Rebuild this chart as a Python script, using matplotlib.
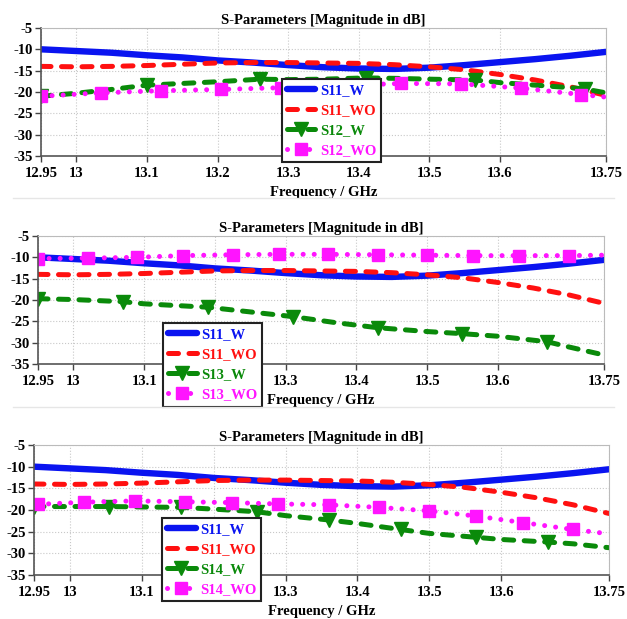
import numpy as np
import matplotlib
matplotlib.use('Agg')
import matplotlib.pyplot as plt
from matplotlib.lines import Line2D

plt.rcParams['font.family'] = ['Liberation Serif', 'DejaVu Serif']
plt.rcParams['font.weight'] = 'bold'
plt.rcParams['axes.unicode_minus'] = False

# shared reflection curves (same in all three plots)
f_s11 = [12.95, 13.0, 13.05, 13.1, 13.15, 13.2, 13.25, 13.3, 13.35, 13.4,
         13.45, 13.5, 13.55, 13.6, 13.65, 13.7, 13.75]
s11_w = [-10.0, -10.4, -10.8, -11.4, -11.9, -12.6, -13.1, -13.7, -14.2, -14.5,
         -14.6, -14.3, -13.7, -13.0, -12.3, -11.5, -10.6]
s11_wo = [-14.0, -14.1, -14.0, -13.8, -13.5, -13.2, -13.1, -13.1, -13.2, -13.3,
          -13.6, -14.1, -14.8, -15.9, -17.2, -18.8, -20.8]

# plot 1: S12
f_s12w = [12.95, 13.0, 13.05, 13.1, 13.15, 13.2, 13.26, 13.3, 13.35, 13.41,
          13.45, 13.5, 13.565, 13.6, 13.65, 13.7, 13.72, 13.75]
s12_w = [-21.0, -20.3, -19.4, -18.4, -18.0, -17.6, -17.0, -17.1, -17.0, -16.7,
         -16.8, -17.0, -17.2, -17.8, -18.4, -19.0, -19.3, -20.2]
mk_s12w = [0, 3, 6, 9, 12, 16]
f_s12wo = [12.95, 13.035, 13.12, 13.205, 13.29, 13.375, 13.46, 13.545, 13.63, 13.715, 13.75]
s12_wo = [-21.0, -20.2, -19.7, -19.4, -19.0, -18.5, -18.0, -18.1, -19.1, -20.6, -21.2]

# plot 2: S13
f_s13w = [12.95, 13.0, 13.07, 13.1, 13.19, 13.25, 13.31, 13.37, 13.43, 13.5,
          13.55, 13.6, 13.67, 13.7, 13.75]
s13_w = [-19.7, -19.9, -20.4, -20.9, -21.7, -22.8, -23.9, -25.3, -26.5, -27.4,
         -27.9, -28.5, -29.8, -31.0, -32.9]
mk_s13w = [0, 2, 4, 6, 8, 10, 12]
f_s13wo = [12.95, 13.02, 13.09, 13.155, 13.225, 13.29, 13.36, 13.43, 13.5,
           13.565, 13.63, 13.7, 13.75]
s13_wo = [-10.3, -10.2, -10.0, -9.6, -9.4, -9.3, -9.3, -9.4, -9.5, -9.6, -9.6, -9.6, -9.5]

# plot 3: S14
f_s14w = [12.95, 13.0, 13.055, 13.1, 13.155, 13.2, 13.26, 13.3, 13.36, 13.4,
          13.46, 13.5, 13.565, 13.6, 13.665, 13.7, 13.75]
s14_w = [-19.2, -19.2, -19.2, -19.3, -19.4, -19.8, -20.4, -21.3, -22.3, -23.1,
         -24.5, -25.4, -26.3, -26.8, -27.4, -27.8, -28.7]
mk_s14w = [0, 2, 4, 6, 8, 10, 12, 14]
f_s14wo = [12.955, 13.02, 13.09, 13.16, 13.225, 13.29, 13.36, 13.43, 13.5,
           13.565, 13.63, 13.7, 13.75]
s14_wo = [-18.7, -18.2, -17.9, -18.1, -18.3, -18.6, -18.8, -19.4, -20.2,
          -21.4, -22.9, -24.5, -25.5]

xticks = [12.95, 13, 13.1, 13.2, 13.3, 13.4, 13.5, 13.6, 13.75]
xticklabels = ['12.95', '13', '13.1', '13.2', '13.3', '13.4', '13.5', '13.6', '13.75']
yticks = [-35, -30, -25, -20, -15, -10, -5]

panels = [
    ('S12', f_s12w, s12_w, mk_s12w, f_s12wo, s12_wo),
    ('S13', f_s13w, s13_w, mk_s13w, f_s13wo, s13_wo),
    ('S14', f_s14w, s14_w, mk_s14w, f_s14wo, s14_wo),
]

ax_rects = [[0.0654, 0.748, 0.901, 0.2068],
            [0.0606, 0.412, 0.9027, 0.2068],
            [0.0542, 0.0711, 0.917, 0.21]]
leg_anchor = [(0.4265, 0.605), (0.221, 0.32), (0.2226, 0.44)]
# the legend sits on top of the 13.2 label in the lower two plots
hidden_label = [None, '13.2', '13.2']

blue, red, green, mag = '#0a14f0', '#ff1010', '#0a8a0a', '#ff14ff'
fs = 10.5

fig = plt.figure(figsize=(6.27, 6.19), dpi=100)

for i, (name, fw, vw, mkw, fwo, vwo) in enumerate(panels):
    ax = fig.add_axes(ax_rects[i])
    ax.plot(f_s11, s11_w, color=blue, lw=4.6, solid_capstyle='round', label='S11_W')
    ax.plot(f_s11, s11_wo, color=red, lw=3.6, ls=(0, (2.0, 2.1)),
            dash_capstyle='round', label='S11_WO')
    ax.plot(fw, vw, color=green, lw=3.6, ls=(0, (2.0, 2.1)), dash_capstyle='round',
            marker='v', ms=9.5, markevery=mkw, label=name + '_W')
    ax.plot(fwo, vwo, color=mag, lw=3.6, ls=(0, (0.01, 2.2)), dash_capstyle='round',
            marker='s', ms=8.5, markevery=list(range(len(fwo) - 1)), label=name + '_WO')

    ax.set_xlim(12.95, 13.75)
    ax.set_ylim(-35, -5)
    ax.set_xticks(xticks)
    ax.set_xticklabels([t if t != hidden_label[i] else '' for t in xticklabels])
    ax.set_yticks(yticks)
    ax.tick_params(labelsize=fs, length=4, width=1, color='#444444')
    ax.tick_params(axis='x', pad=4)
    ax.tick_params(axis='y', pad=2)
    ax.grid(True, color='#c8c8c8', ls=':', lw=0.8)
    for s in ['left', 'bottom']:
        ax.spines[s].set_color('#555555')
        ax.spines[s].set_linewidth(1.2)
    for s in ['top', 'right']:
        ax.spines[s].set_color('#bbbbbb')
    ax.set_title('S-Parameters [Magnitude in dB]', fontsize=fs, fontweight='bold', pad=3)
    ax.set_xlabel('Frequency / GHz', fontsize=fs, fontweight='bold', labelpad=4)

    leg = ax.legend(loc='upper left', bbox_to_anchor=leg_anchor[i], borderaxespad=0,
                    fancybox=False, framealpha=1, edgecolor='#222222', numpoints=1,
                    handlelength=1.95, handletextpad=0.3, labelspacing=0.47,
                    borderpad=0.35, prop={'size': fs, 'weight': 'bold'})
    leg.get_frame().set_linewidth(1.5)
    leg.set_zorder(10)
    for txt, c in zip(leg.get_texts(), [blue, red, green, mag]):
        txt.set_color(c)

# thin separators between the three plots
for yy in [1 - 198 / 619, 1 - 407 / 619]:
    fig.add_artist(Line2D([0.02, 0.98], [yy, yy], color='#e6e6e6', lw=1))

fig.savefig('out.png', dpi=100)
